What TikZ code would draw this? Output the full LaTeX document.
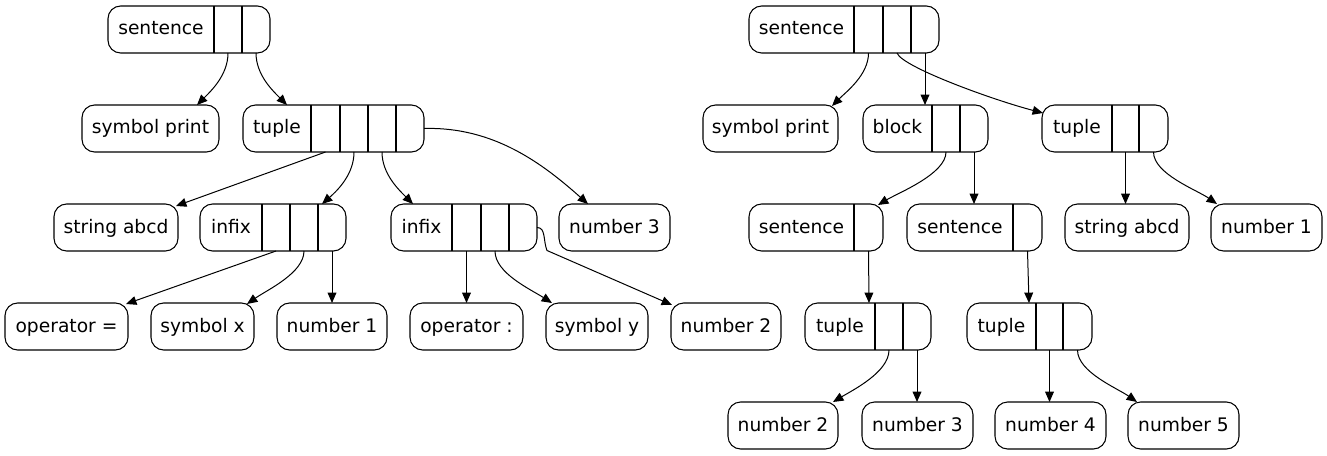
\documentclass[tikz,border=0pt]{standalone}
\usepackage{fontspec}
\setmainfont{DejaVu Sans}
\usetikzlibrary{arrows.meta,calc}
\tikzset{
  recbox/.style={draw, line width=0.8pt, rounded corners=9.5pt, minimum height=35.25pt, inner sep=0pt, outer sep=0pt},
  lbl/.style={anchor=base, inner sep=0pt, font=\fontsize{14}{16}\selectfont},
  divider/.style={line width=0.8pt},
  edge/.style={line width=0.75pt, -{Triangle[length=7.8pt,width=6.6pt]}},
}
\newcommand\leafrec[5]{%
  \pgfmathsetlengthmacro\rw{(#3-#2)*0.75pt}%
  \node[recbox, minimum width=\rw, anchor=north west] (#1) at (#2,#4) {};
  \node[lbl] (#1-t) at ({(#2+#3)/2},#4+29) {#5};
}
\newcommand\fieldrec[6]{%
  \pgfmathsetlengthmacro\rw{(#3-#2)*0.75pt}%
  \node[recbox, minimum width=\rw, anchor=north west] (#1) at (#2,#4) {};
  \foreach \d [count=\i, remember=\d as \pd (initially #2)] in {#6,#3} {%
    \ifnum\i=1\relax
      \node[lbl] (#1-t) at ({(\pd+\d)/2},#4+29) {#5};
    \else
      \pgfmathtruncatemacro\pn{\i-1}%
      \coordinate (#1-p\pn) at ({(\pd+\d)/2},#4+47);
    \fi
  }%
  \foreach \d in {#6} {\draw[divider] (\d,#4) -- (\d,#4+47);}%
}
\begin{document}
\begin{tikzpicture}[x=0.75pt,y=-0.75pt]
\useasboundingbox (0,0) rectangle (1327,456);
% ---- left tree
\fieldrec{s1}{108}{270}{6}{sentence}{214,242}
\leafrec{spL}{82}{219}{105}{symbol print}
\fieldrec{t1}{243}{424}{105}{tuple}{311,340,368,396}
\leafrec{saL}{54}{178}{204}{string abcd}
\fieldrec{i1}{200}{346}{204}{infix}{262,290,318}
\fieldrec{i2}{391}{537}{204}{infix}{452,481,509}
\leafrec{n3L}{559}{670}{204}{number 3}
\leafrec{opEq}{5}{128}{303}{operator =}
\leafrec{sx}{151}{254}{303}{symbol x}
\leafrec{n1L}{277}{387}{303}{number 1}
\leafrec{opCol}{410}{523}{303}{operator :}
\leafrec{sy}{546}{648}{303}{symbol y}
\leafrec{n2L}{671}{781}{303}{number 2}
% ---- right tree
\fieldrec{sR}{749}{939}{6}{sentence}{854,883,911}
\leafrec{spR}{703}{838}{105}{symbol print}
\fieldrec{bl}{863}{988}{105}{block}{932,960}
\fieldrec{tR}{1042}{1168}{105}{tuple}{1112,1139}
\fieldrec{sa}{749}{883}{204}{sentence}{854}
\fieldrec{sb}{907}{1042}{204}{sentence}{1013}
\leafrec{saR}{1065}{1189}{204}{string abcd}
\leafrec{n1R}{1211}{1322}{204}{number 1}
\fieldrec{ta}{805}{931}{303}{tuple}{875,903}
\fieldrec{tb}{967}{1092}{303}{tuple}{1036,1063}
\leafrec{n2R}{728}{838}{402}{number 2}
\leafrec{n3R}{862}{973}{402}{number 3}
\leafrec{n4}{995}{1106}{402}{number 4}
\leafrec{n5}{1128}{1239}{402}{number 5}
% ---- left edges
\draw[edge] (s1-p1) .. controls +(0,22) and +(14,-14) .. ($(spL.north west)+(115,0)$);
\draw[edge] (s1-p2) .. controls +(0,22) and +(-14,-14) .. ($(t1.north west)+(44,0)$);
\draw[edge] (t1-p1) -- ($(saL.north west)+(122,2)$);
\draw[edge] (t1-p2) .. controls +(0,22) and +(16,-14) .. ($(i1.north west)+(122,0)$);
\draw[edge] (t1-p3) .. controls +(0,22) and +(-14,-14) .. ($(i2.north west)+(22,0)$);
\draw[edge] (t1.east) .. controls +(70,-2) and +(-45,-40) .. ($(n3L.north west)+(29,0)$);
\draw[edge] (i1-p1) -- ($(opEq.north west)+(121,1)$);
\draw[edge] (i1-p2) .. controls +(0,22) and +(20,-14) .. ($(sx.north west)+(96,1)$);
\draw[edge] (i1-p3) -- (i1-p3 |- n1L.north);
\draw[edge] (i2-p1) -- (i2-p1 |- opCol.north);
\draw[edge] (i2-p2) .. controls +(0,22) and +(-22,-14) .. ($(sy.north west)+(6,0)$);
\draw[edge] (i2.east) .. controls +(9,0) and +(-4,-10) .. ($(i2.east)+(10,23)$) -- ($(n2L.north west)+(1,2)$);
% ---- right edges
\draw[edge] (sR-p1) .. controls +(0,22) and +(14,-14) .. ($(spR.north west)+(129,1)$);
\draw[edge] (sR-p2) .. controls +(5,14) and +(-50,-13) .. ($(tR.north west)+(1,8)$);
\draw[edge] (sR-p3) -- (sR-p3 |- bl.north);
\draw[edge] (bl-p1) .. controls +(0,22) and +(20,-12) .. ($(sa.north west)+(129,1)$);
\draw[edge] (bl-p2) -- (bl-p2 |- sb.north);
\draw[edge] (tR-p1) -- (tR-p1 |- saR.north);
\draw[edge] (tR-p2) .. controls +(0,22) and +(-20,-14) .. ($(n1R.north west)+(6,0)$);
\draw[edge] (sa-p1) -- ($(ta.north west)+(64,0)$);
\draw[edge] (sb-p1) -- ($(tb.north west)+(62,0)$);
\draw[edge] (ta-p1) .. controls +(0,22) and +(20,-12) .. ($(n2R.north west)+(105,0)$);
\draw[edge] (ta-p2) -- (ta-p2 |- n3R.north);
\draw[edge] (tb-p1) -- (tb-p1 |- n4.north);
\draw[edge] (tb-p2) .. controls +(0,22) and +(-20,-14) .. ($(n5.north west)+(9,0)$);
\end{tikzpicture}
\end{document}
